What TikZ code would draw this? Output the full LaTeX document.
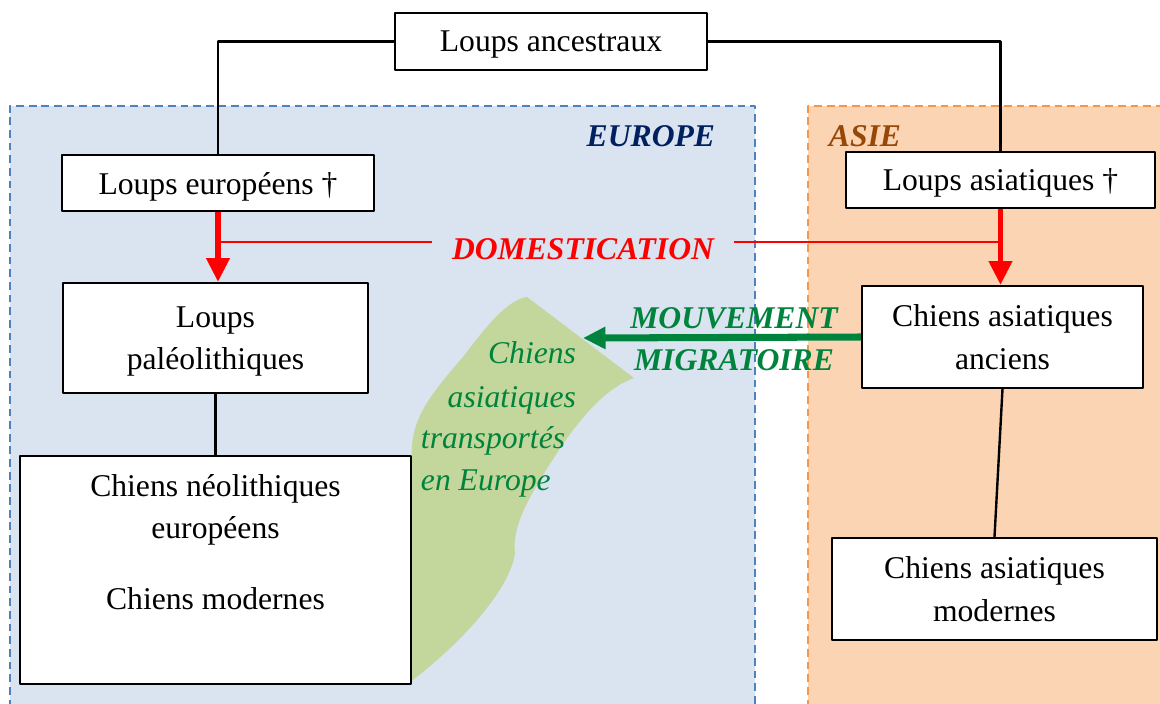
\documentclass[tikz,border=0pt]{standalone}
\usepackage{fontspec}
\setmainfont{Liberation Serif}
\usetikzlibrary{arrows.meta}
\definecolor{eurofond}{HTML}{DAE3F0}
\definecolor{eurobord}{HTML}{4F81BD}
\definecolor{asiefond}{HTML}{FBD4B4}
\definecolor{asiebord}{HTML}{F79646}
\definecolor{eurotexte}{HTML}{002060}
\definecolor{asietexte}{HTML}{984806}
\definecolor{migvert}{HTML}{00843D}
\definecolor{zonevert}{HTML}{C3D69B}
\begin{document}
\begin{tikzpicture}[x=0.025cm, y=-0.025cm, font=\fontsize{22.5}{29.9}\selectfont, line join=round,
	boite/.style={draw, fill=white, line width=1.5pt, align=center, inner sep=0pt, text depth=0pt},
	lien/.style={line width=1.7pt},
	region/.style={dash pattern=on 5.5pt off 3.5pt, line width=1.6pt},
	titre/.style={font=\fontsize{22.5}{29.9}\selectfont\bfseries\itshape},
	vertit/.style={migvert, font=\fontsize{22.5}{29.9}\selectfont\itshape},
	domest/.style={red, line width=4pt, -{Triangle[width=16pt,length=17pt]}},
	fil/.style={red, line width=1pt},
	migr/.style={migvert, line width=5pt, -{Triangle[width=15pt,length=16pt]}}]
	\clip (0,0) rectangle (1160,704);
	\fill[eurofond] (10,106) rectangle (755,720);
	\draw[region, eurobord] (10,720) -- (10,106) -- (755,106) -- (755,720);
	\fill[asiefond] (808,106) rectangle (1175,720);
	\draw[region, asiebord] (808,720) -- (808,106) -- (1175,106);
	\node[titre, eurotexte, anchor=base east] (europe) at (720,146) {EUROPE};
	\node[titre, asietexte, anchor=base west] (asie) at (824,146) {ASIE};
	\fill[zonevert] (527,297) -- (634,378) .. controls (600,390) and (570,430) .. (540,480)
		.. controls (525,505) and (512,530) .. (515,553) .. controls (510,590) and (460,645) .. (405,686)
		-- (405,456) -- (412,456) .. controls (410,420) and (430,395) .. (463,357)
		.. controls (480,335) and (505,300) .. (527,297) -- cycle;
	\node[vertit, anchor=base east] (tr1) at (581,363) {Chiens};
	\node[vertit, anchor=base east] (tr2) at (581,407) {asiatiques};
	\node[vertit, anchor=base west] (tr3) at (416,448) {transportés};
	\node[vertit, anchor=base west] (tr4) at (416,490) {en Europe};
	\node[boite, minimum width=7.8cm, minimum height=1.425cm] (anc) at (551,41.5) {Loups ancestraux};
	\node[boite, minimum width=7.8cm, minimum height=1.4cm] (loupeu) at (218,183) {Loups européens †};
	\node[boite, minimum width=7.725cm, minimum height=1.4cm] (loupas) at (1000.5,180) {Loups asiatiques †};
	\node[boite, minimum width=7.625cm, minimum height=2.75cm] (paleo) at (215.5,338) {Loups\\paléolithiques};
	\node[boite, minimum width=7.025cm, minimum height=2.55cm] (asanc) at (1002.5,337) {Chiens asiatiques\\anciens};
	\node[boite, minimum width=9.775cm, minimum height=5.7cm] (neo) at (215.5,570) {};
	\node[align=center, anchor=north, inner sep=0pt] (neotxt) at (215.5,474) {Chiens néolithiques\\européens\\[21pt]Chiens modernes};
	\node[boite, minimum width=8.125cm, minimum height=2.55cm] (asmod) at (994.5,589) {Chiens asiatiques\\modernes};
	\draw[lien] (anc.west) -| (loupeu.north);
	\draw[lien] (anc.east) -| (loupas.north);
	\draw[lien] (paleo.south) -- (neo.north);
	\draw[lien] (asanc.south) -- (asmod.north);
	\node[titre, red, inner xsep=14pt] (dom) at (583,249) {DOMESTICATION};
	\coordinate (domg) at ([yshift=5pt]dom.west);
	\coordinate (domd) at ([yshift=5pt]dom.east);
	\draw[fil] (domg) -- (domg -| loupeu.south);
	\draw[fil] (domd) -- (domd -| loupas.south);
	\draw[domest] (loupeu.south) -- (loupeu.south |- paleo.north);
	\draw[domest] (loupas.south) -- (loupas.south |- asanc.north);
	\coordinate (pointe) at (583,338);
	\draw[migr] (asanc.west) -- (pointe);
	\node[titre, migvert, align=center] (mig) at (734,339) {MOUVEMENT\\MIGRATOIRE};
\end{tikzpicture}
\end{document}
